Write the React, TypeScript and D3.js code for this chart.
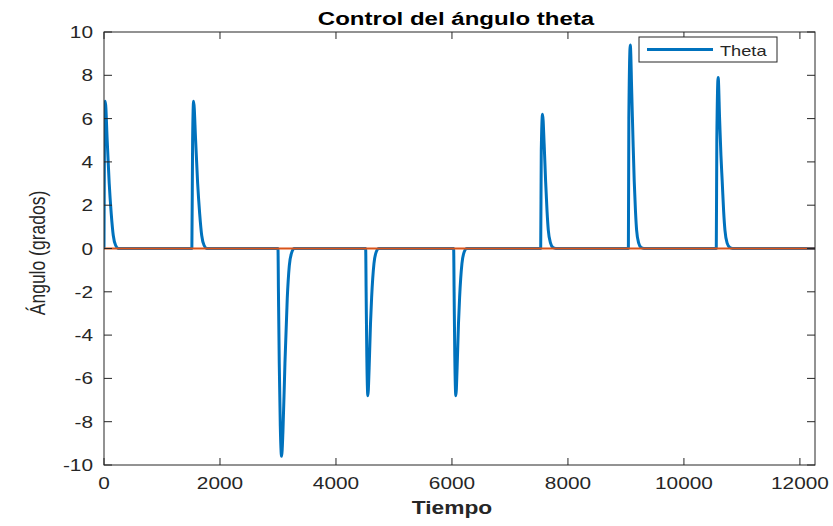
import React from "react";
import * as d3 from "d3";

// simulated theta response: time, angle in degrees
const tiempo = [
  0, 8, 22, 55, 90, 125, 160, 200, 250,
  1515, 1528, 1545, 1580, 1615, 1650, 1685, 1725, 1775,
  3000, 3008, 3022, 3040, 3062, 3085, 3120, 3160, 3195, 3235, 3280,
  4512, 4520, 4532, 4550, 4572, 4595, 4615, 4655, 4695, 4740,
  6029, 6037, 6049, 6067, 6089, 6112, 6132, 6172, 6212, 6257,
  7530, 7540, 7562, 7590, 7615, 7640, 7661, 7700, 7740, 7790,
  9042, 9050, 9075, 9100, 9122, 9143, 9165, 9184, 9220, 9260, 9310,
  10558, 10567, 10590, 10615, 10638, 10660, 10685, 10707, 10745, 10790, 10840,
  12260,
];
const theta = [
  0, 5.0, 6.8, 5.0, 3.0, 1.6, 0.6, 0.15, 0,
  0, 5.0, 6.8, 5.0, 3.0, 1.6, 0.6, 0.15, 0,
  0, -2.0, -5.3, -8.2, -9.6, -8.5, -5.3, -2.3, -0.8, -0.2, 0,
  0, -2.0, -5.0, -6.8, -5.5, -3.5, -2.25, -0.7, -0.15, 0,
  0, -2.0, -5.0, -6.8, -5.5, -3.5, -2.25, -0.7, -0.15, 0,
  0, 4.5, 6.2, 4.8, 3.1, 1.7, 0.85, 0.25, 0.05, 0,
  0, 6.0, 9.4, 7.2, 5.0, 3.1, 1.7, 0.85, 0.25, 0.05, 0,
  0, 5.0, 7.9, 6.0, 4.3, 3.1, 1.7, 0.85, 0.25, 0.05, 0,
  0,
];
// reference (setpoint) line
const refTiempo = [0, 12260];
const refTheta = [0, 0];

const xTicks = [0, 2000, 4000, 6000, 8000, 10000, 12000];
const yTicks = [-10, -8, -6, -4, -2, 0, 2, 4, 6, 8, 10];

const W = 833;
const H = 526;
const left = 104, right = 815, top = 32, bottom = 465;
const SX = 1.3; // the figure is stretched horizontally
const FONT = "'Liberation Sans', Arial, Helvetica, sans-serif";
const INK = "#262626";

const T = ({ x, y, anchor = "middle", size = 16, weight = "normal", children, rotate = 0, fill = INK }: any) => (
  <text
    transform={`translate(${x},${y}) rotate(${rotate}) scale(${rotate ? 1 : SX},${rotate ? SX : 1})`}
    textAnchor={anchor}
    fontSize={size}
    fontWeight={weight}
    fontFamily={FONT}
    fill={fill}
  >
    {children}
  </text>
);

export default function App() {
  const x = d3.scaleLinear().domain([0, 12260]).range([left, right]);
  const y = d3.scaleLinear().domain([-10, 10]).range([bottom, top]);

  const line = d3
    .line<number>()
    .x((_, i) => x(tiempo[i]))
    .y((d) => y(d))
    .curve(d3.curveMonotoneX);

  const refLine = d3
    .line<number>()
    .x((_, i) => x(refTiempo[i]))
    .y((d) => y(d));

  return (
    <svg width={W} height={H} style={{ position: "absolute", left: 0, top: 0, background: "#fff" }}>
      <rect x={0} y={0} width={W} height={H} fill="#fff" />
      <rect x={left} y={top} width={right - left} height={bottom - top} fill="#fff" />

      <defs>
        <clipPath id="clip">
          <rect x={left} y={top - 2} width={right - left} height={bottom - top + 4} />
        </clipPath>
      </defs>
      <g clipPath="url(#clip)">
        <path d={line(theta) || ""} fill="none" stroke="#0072BD" strokeWidth={3} strokeLinejoin="round" />
        <path d={refLine(refTheta) || ""} fill="none" stroke="#D95319" strokeWidth={1.8} />
      </g>

      {/* box and ticks */}
      <rect x={left} y={top} width={right - left} height={bottom - top} fill="none" stroke={INK} strokeWidth={1} />
      {xTicks.map((t) => (
        <g key={"x" + t}>
          <line x1={x(t)} x2={x(t)} y1={bottom} y2={bottom - 7} stroke={INK} />
          <line x1={x(t)} x2={x(t)} y1={top} y2={top + 7} stroke={INK} />
          <T x={x(t)} y={489}>{t}</T>
        </g>
      ))}
      {yTicks.map((t) => (
        <g key={"y" + t}>
          <line x1={left} x2={left + 8} y1={y(t)} y2={y(t)} stroke={INK} />
          <line x1={right} x2={right - 8} y1={y(t)} y2={y(t)} stroke={INK} />
          <T x={93} y={y(t) + 6} anchor="end">{t}</T>
        </g>
      ))}

      <T x={456} y={25} size={18.5} weight="bold" fill="#000">Control del ángulo theta</T>
      <T x={452} y={514} size={17.5} weight="bold">Tiempo</T>
      <T x={45} y={253} size={17.5} rotate={-90}>Ángulo (grados)</T>

      {/* legend */}
      <rect x={639} y={37} width={138} height={25} fill="#fff" stroke={INK} strokeWidth={1} />
      <line x1={647} x2={713} y1={49.5} y2={49.5} stroke="#0072BD" strokeWidth={3} />
      <T x={720} y={55.5} anchor="start" size={14}>Theta</T>
    </svg>
  );
}
